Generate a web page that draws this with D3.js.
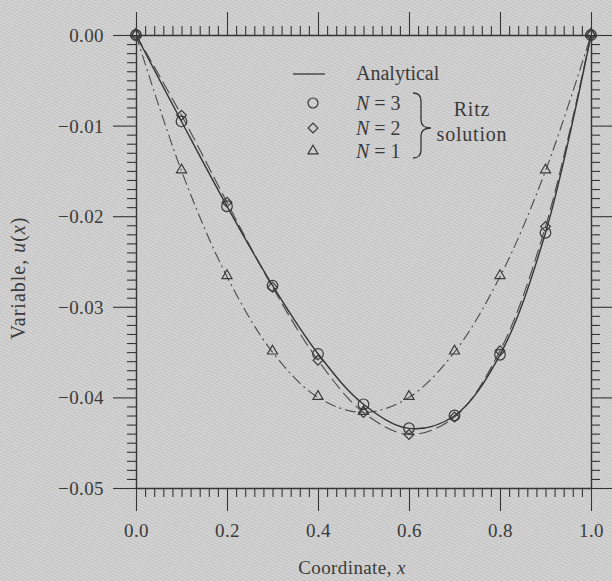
<!DOCTYPE html>
<html>
<head>
<meta charset="utf-8">
<script src="https://cdn.jsdelivr.net/npm/d3@7"></script>
<style>
  html, body { margin: 0; padding: 0; background: #cdcdcd; }
  svg { display: block; }
  text { font-family: "Liberation Serif", "DejaVu Serif", serif; fill: #3a3a3a; }
</style>
</head>
<body>
<svg id="chart" width="612" height="581"></svg>
<script>
// Sample positions along the bar, 0 to 1
const coords = [0, 0.1, 0.2, 0.3, 0.4, 0.5, 0.6, 0.7, 0.8, 0.9, 1.0];

// Exact solution of -u'' - u + x^2 = 0, u(0) = u(1) = 0
const analytical = [0, -0.00955, -0.01890, -0.02763, -0.03518, -0.04076, -0.04342, -0.04203, -0.03530, -0.02182, 0];

// Ritz approximations with N trial functions
const ritzN3 = [0, -0.00954, -0.01890, -0.02766, -0.03520, -0.04076, -0.04340, -0.04200, -0.03529, -0.02183, 0];
const ritzN2 = [0, -0.00885, -0.01847, -0.02783, -0.03590, -0.04167, -0.04410, -0.04217, -0.03486, -0.02115, 0];
const ritzN1 = [0, -0.01500, -0.02667, -0.03500, -0.04000, -0.04167, -0.04000, -0.03500, -0.02667, -0.01500, 0];

// Axis ticks and their labels
const xTicks = [0, 0.2, 0.4, 0.6, 0.8, 1.0];
const xTickLabels = ["0.0", "0.2", "0.4", "0.6", "0.8", "1.0"];
const yTicks = [0, -0.01, -0.02, -0.03, -0.04, -0.05];
const yTickLabels = ["0.00", "\u22120.01", "\u22120.02", "\u22120.03", "\u22120.04", "\u22120.05"];

const svg = d3.select("#chart");
const W = 612, H = 581;
const ink = "#353535";
const textInk = "#3c3c3c";

// Halftone-like diagonal texture of the page
const defs = svg.append("defs");
const pat = defs.append("pattern")
  .attr("id", "paper")
  .attr("patternUnits", "userSpaceOnUse")
  .attr("width", 8).attr("height", 3)
  .attr("patternTransform", "rotate(28)");
pat.append("rect").attr("width", 8).attr("height", 3).attr("fill", "#d4d4d4");
pat.append("rect").attr("y", 0).attr("width", 8).attr("height", 1.2).attr("fill", "#c3c3c3");
svg.append("rect").attr("width", W).attr("height", H).attr("fill", "url(#paper)");

const pLeft = 136, pRight = 591, pTop = 35, pBottom = 488;
const x = d3.scaleLinear().domain([0, 1]).range([pLeft, pRight]);
const y = d3.scaleLinear().domain([-0.05, 0]).range([pBottom, pTop]);

const majorLen = 23, minorLen = 9;
const xMinor = d3.range(0, 1.0001, 0.02).filter(v => Math.abs(Math.round(v * 5) - v * 5) > 1e-6);
const yMinor = d3.range(0, -0.05001, -0.001).filter(v => Math.abs(Math.round(v * 100) - v * 100) > 1e-6);

function styleAxis(g) {
  g.select(".domain").attr("stroke", ink).attr("stroke-width", 1.4);
  g.selectAll(".tick line").attr("stroke", ink).attr("stroke-width", 1.1);
}

// Minor ticks on all four sides
[["bottom", d3.axisBottom, x, xMinor, pBottom],
 ["top", d3.axisTop, x, xMinor, pTop],
 ["left", d3.axisLeft, y, yMinor, pLeft],
 ["right", d3.axisRight, y, yMinor, pRight]].forEach(([side, fn, sc, vals, pos]) => {
  const horiz = side === "bottom" || side === "top";
  const g = svg.append("g")
    .attr("transform", horiz ? `translate(0,${pos})` : `translate(${pos},0)`)
    .call(fn(sc).tickValues(vals).tickSize(minorLen).tickSizeOuter(0).tickFormat(""));
  g.select(".domain").remove();
  styleAxis(g);
});

// Major ticks on all four sides, labels only at left and bottom
const gB = svg.append("g").attr("transform", `translate(0,${pBottom})`)
  .call(d3.axisBottom(x).tickValues(xTicks).tickSize(majorLen).tickSizeOuter(0)
    .tickFormat((d, i) => xTickLabels[i]));
const gT = svg.append("g").attr("transform", `translate(0,${pTop})`)
  .call(d3.axisTop(x).tickValues(xTicks).tickSize(majorLen).tickSizeOuter(0).tickFormat(""));
const gL = svg.append("g").attr("transform", `translate(${pLeft},0)`)
  .call(d3.axisLeft(y).tickValues(yTicks).tickSize(majorLen).tickSizeOuter(0)
    .tickFormat((d, i) => yTickLabels[i]));
const gR = svg.append("g").attr("transform", `translate(${pRight},0)`)
  .call(d3.axisRight(y).tickValues(yTicks).tickSize(majorLen).tickSizeOuter(0).tickFormat(""));
[gB, gT, gL, gR].forEach(styleAxis);

gB.selectAll(".tick text")
  .attr("y", 0).attr("dy", 0)
  .attr("transform", "translate(0,49)")
  .attr("font-size", 19).attr("fill", textInk)
  .attr("font-family", "Liberation Serif")
  .attr("letter-spacing", 0.4);
gL.selectAll(".tick text")
  .attr("x", -32).attr("dy", "0.34em")
  .attr("font-size", 19).attr("fill", textInk)
  .attr("font-family", "Liberation Serif")
  .attr("letter-spacing", 0.4);

// Axis titles
svg.append("text")
  .attr("x", 352).attr("y", 574)
  .attr("text-anchor", "middle").attr("font-size", 19).attr("letter-spacing", 0.4)
  .html('Coordinate, <tspan font-style="italic">x</tspan>');
svg.append("text")
  .attr("transform", "translate(25,278) rotate(-90)")
  .attr("text-anchor", "middle").attr("font-size", 20).attr("letter-spacing", 1)
  .html('Variable, <tspan font-style="italic">u</tspan>(<tspan font-style="italic">x</tspan>)');

// Curves
const plot = svg.append("g");
const lineOf = vals => d3.line()
  .x((d, i) => x(coords[i]))
  .y(d => y(d))
  .curve(d3.curveCatmullRom.alpha(0.5))(vals);

plot.append("path").attr("d", lineOf(ritzN1))
  .attr("fill", "none").attr("stroke", "#4a4a4a").attr("stroke-width", 1.1)
  .attr("stroke-dasharray", "11,4,2,4");
plot.append("path").attr("d", lineOf(ritzN2))
  .attr("fill", "none").attr("stroke", "#4a4a4a").attr("stroke-width", 1.1)
  .attr("stroke-dasharray", "13,5");
plot.append("path").attr("d", lineOf(analytical))
  .attr("fill", "none").attr("stroke", ink).attr("stroke-width", 1.4);

// Markers
const markStroke = "#3a3a3a";
const tri = d3.symbol().type(d3.symbolTriangle).size(44);
// Diamond drawn as a square turned 45 degrees
const sq = d3.symbol().type(d3.symbolSquare).size(48);

plot.selectAll(".m1").data(ritzN1).join("path")
  .attr("d", tri)
  .attr("transform", (d, i) => `translate(${x(coords[i])},${y(d) - 1})`)
  .attr("fill", "none").attr("stroke", markStroke).attr("stroke-width", 1.2);
plot.selectAll(".m2").data(ritzN2).join("path")
  .attr("d", sq)
  .attr("transform", (d, i) => `translate(${x(coords[i])},${y(d)}) rotate(45)`)
  .attr("fill", "none").attr("stroke", markStroke).attr("stroke-width", 1.2);
plot.selectAll(".m3").data(ritzN3).join("circle")
  .attr("cx", (d, i) => x(coords[i])).attr("cy", d => y(d)).attr("r", 5.3)
  .attr("fill", "none").attr("stroke", markStroke).attr("stroke-width", 1.2);

// Legend
const lg = svg.append("g");
lg.append("line").attr("x1", 293).attr("x2", 325).attr("y1", 74).attr("y2", 74)
  .attr("stroke", ink).attr("stroke-width", 1.3);
lg.append("text").attr("x", 356).attr("y", 80).attr("font-size", 20)
  .text("Analytical");
const entries = [
  { n: 3, yy: 103, sym: "circle" },
  { n: 2, yy: 128, sym: "diamond" },
  { n: 1, yy: 151, sym: "triangle" }
];
entries.forEach(e => {
  if (e.sym === "circle") {
    lg.append("circle").attr("cx", 313).attr("cy", e.yy).attr("r", 5)
      .attr("fill", "none").attr("stroke", markStroke).attr("stroke-width", 1.2);
  } else if (e.sym === "diamond") {
    lg.append("path").attr("d", sq)
      .attr("transform", `translate(313,${e.yy}) rotate(45)`)
      .attr("fill", "none").attr("stroke", markStroke).attr("stroke-width", 1.2);
  } else {
    lg.append("path").attr("d", tri)
      .attr("transform", `translate(313,${e.yy})`)
      .attr("fill", "none").attr("stroke", markStroke).attr("stroke-width", 1.2);
  }
  lg.append("text").attr("x", 356).attr("y", e.yy + 7).attr("font-size", 20)
    .html(`<tspan font-style="italic">N</tspan> = ${e.n}`);
});
// Brace grouping the Ritz entries
lg.append("path")
  .attr("d", "M413,93 Q421,93 421,101 L421,120 Q421,128 431,128 Q421,128 421,136 L421,150 Q421,158 413,158")
  .attr("fill", "none").attr("stroke", ink).attr("stroke-width", 1.3);
lg.append("text").attr("x", 472).attr("y", 116).attr("text-anchor", "middle").attr("font-size", 20)
  .attr("letter-spacing", 0.8)
  .text("Ritz");
lg.append("text").attr("x", 472).attr("y", 141).attr("text-anchor", "middle").attr("font-size", 20)
  .attr("letter-spacing", 0.8)
  .text("solution");
</script>
</body>
</html>
